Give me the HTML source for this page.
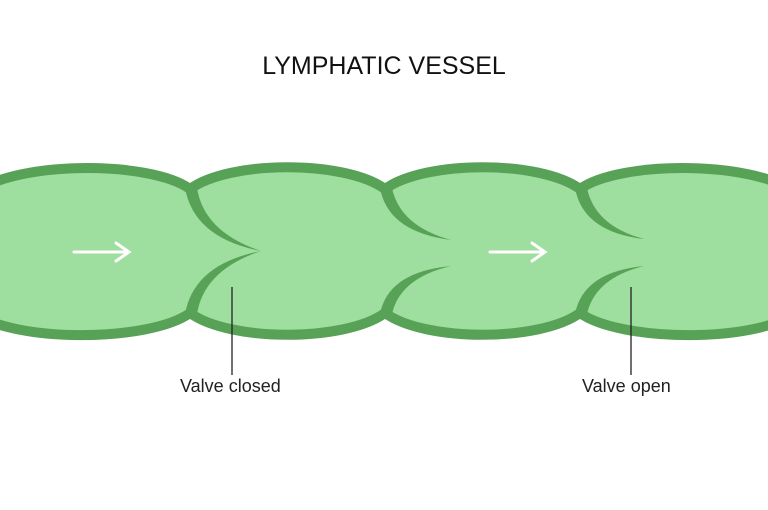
<!DOCTYPE html>
<html><head><style>
html,body{margin:0;padding:0;background:#fff;}
body{width:768px;height:505px;overflow:hidden;}
</style></head><body>
<svg width="768" height="505" viewBox="0 0 768 505" xmlns="http://www.w3.org/2000/svg">
<text x="384" y="74" text-anchor="middle" font-family="Liberation Sans, sans-serif" font-size="25" fill="#111">LYMPHATIC VESSEL</text>
<path d="M-30,196 C10,160 150,160 190,189 C230,160 345,160 385,189 C425,160 540,160 580,189 C620,160 760,160 800,196
L800,310 C760,344 620,342 580,313 C540,342 425,342 385,313 C345,342 230,342 190,313 C150,342 10,344 -30,310 Z"
 fill="#9ede9e" stroke="#58a258" stroke-width="10" stroke-linejoin="round"/>
<g fill="#58a258">
<path d="M185,188 Q194,238 261,251 Q204,232 197,188 Z"/>
<path d="M185,314 Q194,264 261,251 Q204,270 197,314 Z"/>
<path d="M380,188 Q388,232 451,240 Q400,226 392,188 Z"/>
<path d="M380,314 Q388,272 451,266 Q400,278 392,314 Z"/>
<path d="M575,188 Q583,232 644,239 Q595,226 587,188 Z"/>
<path d="M575,314 Q583,272 644,266 Q595,278 587,314 Z"/>
</g>
<g stroke="#fff" stroke-width="3" fill="none" stroke-linecap="round">
<line x1="74" y1="252" x2="128" y2="252"/><path d="M116,243 L129,252 L116,261"/>
<line x1="490" y1="252" x2="544" y2="252"/><path d="M532,243 L545,252 L532,261"/>
</g>
<g stroke="#222" stroke-width="1.3">
<line x1="232" y1="287" x2="232" y2="375"/>
<line x1="631" y1="287" x2="631" y2="375"/>
</g>
<g font-family="Liberation Sans, sans-serif" font-size="18" fill="#222">
<text x="180" y="392">Valve closed</text>
<text x="582" y="392">Valve open</text>
</g>
</svg>
</body></html>
